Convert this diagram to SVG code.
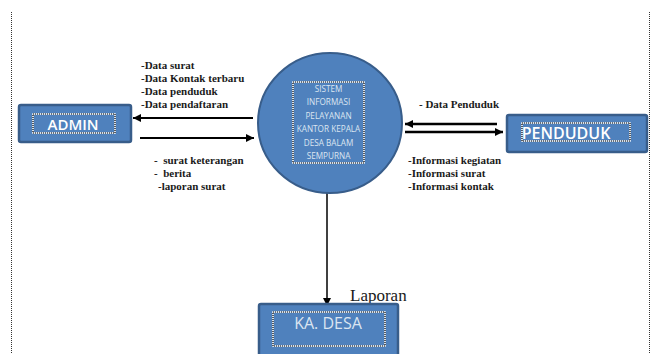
<svg xmlns="http://www.w3.org/2000/svg" width="655" height="354" viewBox="0 0 655 354">
<defs>
<style>
.box{fill:#4f81bd;stroke:#385d8a;stroke-width:2.5}
.dw{fill:none;stroke:#ffffff;stroke-width:1.5}
.dk{fill:none;stroke:#000000;stroke-width:1.2;stroke-dasharray:1 1}
.lbl{font-family:"Open Sans","Liberation Sans",sans-serif;fill:#ffffff;text-anchor:middle}
.ct{font-family:"Open Sans","Liberation Sans",sans-serif;fill:#dbe5f1;font-size:8.2px;text-anchor:middle}
.ft{font-family:"Liberation Serif",serif;font-weight:bold;font-size:11px;fill:#1a1a1a}
.ln{stroke:#000;fill:none}
.page{stroke:#333;stroke-width:1;stroke-dasharray:1 1;fill:none}
</style>
<marker id="ah" markerWidth="10" markerHeight="10" refX="8" refY="5" orient="auto" markerUnits="userSpaceOnUse">
<path d="M0,1 L8,5 L0,9 Z" fill="#000"/>
</marker>
</defs>
<rect width="655" height="354" fill="#ffffff"/>
<line class="page" x1="11.5" y1="12" x2="11.5" y2="354"/>
<line class="page" x1="649.5" y1="12" x2="649.5" y2="354"/>

<g id="connectors">
<line class="ln" stroke-width="2" x1="253" y1="118" x2="133" y2="118" marker-end="url(#ah)"/>
<line class="ln" stroke-width="2" x1="140" y1="138" x2="254" y2="138" marker-end="url(#ah)"/>
<line class="ln" stroke-width="2.6" x1="497" y1="124" x2="405" y2="124" marker-end="url(#ah)"/>
<line class="ln" stroke-width="2.6" x1="405" y1="132" x2="503" y2="132" marker-end="url(#ah)"/>
<line class="ln" stroke-width="1.5" x1="327" y1="193" x2="327" y2="306" marker-end="url(#ah)"/>
<g id="flow-labels">
<text class="ft" x="141" y="69">-Data surat</text>
<text class="ft" x="141" y="82">-Data Kontak terbaru</text>
<text class="ft" x="141" y="95">-Data penduduk</text>
<text class="ft" x="141" y="108">-Data pendaftaran</text>
<text class="ft" x="154" y="164" xml:space="preserve">-  surat keterangan</text>
<text class="ft" x="154" y="177" xml:space="preserve">-  berita</text>
<text class="ft" x="158" y="190">-laporan surat</text>
<text class="ft" x="419" y="108">- Data Penduduk</text>
<text class="ft" x="408" y="164">-Informasi kegiatan</text>
<text class="ft" x="408" y="177">-Informasi surat</text>
<text class="ft" x="408" y="190">-Informasi kontak</text>
<text x="350" y="301" font-family="Liberation Serif, serif" font-size="17" fill="#1a1a1a">Laporan</text>
</g>
</g>

<g id="process">
<ellipse cx="330" cy="123" rx="72" ry="70" fill="#4f81bd" stroke="#385d8a" stroke-width="2"/>
<rect class="dw" x="293" y="82" width="71" height="81"/>
<rect class="dk" x="293" y="82" width="71" height="81"/>
<text class="ct" x="328.5" y="92">SISTEM</text>
<text class="ct" x="328.5" y="105.4">INFORMASI</text>
<text class="ct" x="328.5" y="118.8">PELAYANAN</text>
<text class="ct" x="328.5" y="132.2">KANTOR KEPALA</text>
<text class="ct" x="328.5" y="145.6">DESA BALAM</text>
<text class="ct" x="328.5" y="159">SEMPURNA</text>
</g>

<g id="admin">
<rect class="box" x="19" y="105" width="112" height="37" rx="2"/>
<rect class="dw" x="33" y="114" width="82" height="19"/>
<rect class="dk" x="33" y="114" width="82" height="19"/>
<text class="lbl" x="73" y="130" font-size="15" font-weight="600">ADMIN</text>
</g>

<g id="penduduk">
<rect class="box" x="507" y="115" width="140" height="37" rx="2"/>
<rect class="dw" x="522" y="123" width="108" height="18"/>
<rect class="dk" x="522" y="123" width="108" height="18"/>
<text class="lbl" x="566" y="138.5" font-size="16" font-weight="600">PENDUDUK</text>
</g>

<g id="ka-desa">
<rect class="box" x="259" y="304" width="139" height="52" rx="2"/>
<rect class="dw" x="273" y="312" width="112" height="34"/>
<rect class="dk" x="273" y="312" width="112" height="34"/>
<text class="lbl" x="328" y="329" font-size="16" style="fill:#dbe5f1">KA. DESA</text>
</g>
</svg>
